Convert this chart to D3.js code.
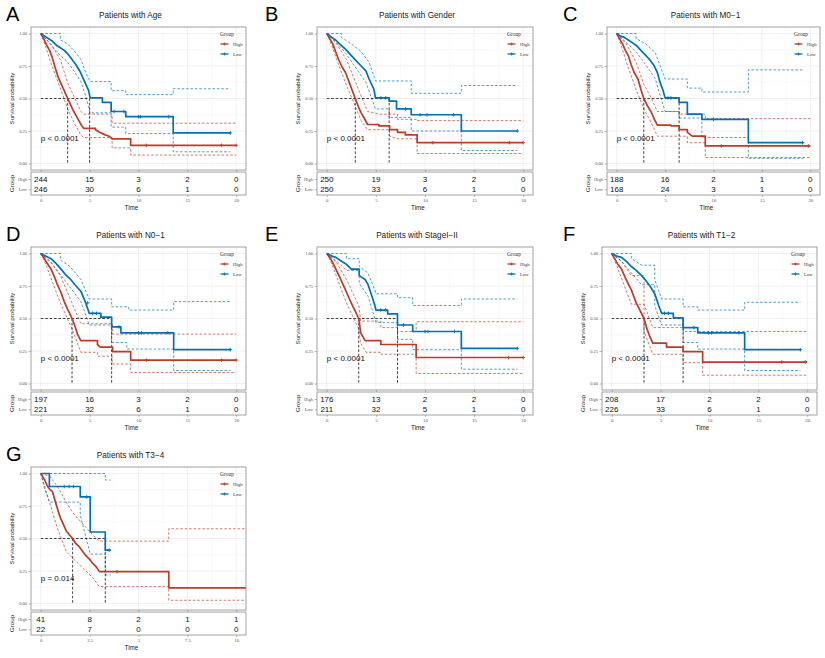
<!DOCTYPE html>
<html>
<head>
<meta charset="utf-8">
<script src="https://cdn.jsdelivr.net/npm/d3@7"></script>
<style>
  body { margin: 0; background: #fff; }
</style>
</head>
<body>
<svg id="chart" width="825" height="658"></svg>
<script>
// ---- data ----
var letters = ["A", "B", "C", "D", "E", "F", "G"];
var titles = ["Patients with Age", "Patients with Gender", "Patients with M0\u22121",
  "Patients with N0\u22121", "Patients with StageI\u2212II", "Patients with T1\u22122", "Patients with T3\u22124"];
var pTexts = ["p < 0.0001", "p < 0.0001", "p < 0.0001", "p < 0.0001", "p < 0.0001", "p < 0.0001", "p = 0.014"];
var groups = ["High", "Low"];
var yTicks = [0, 0.25, 0.5, 0.75, 1];

var riskTimes = [[0, 5, 10, 15, 20], [0, 5, 10, 15, 20], [0, 5, 10, 15, 20], [0, 5, 10, 15, 20],
  [0, 5, 10, 15, 20], [0, 5, 10, 15, 20], [0, 2.5, 5, 7.5, 10]];
var tickLabels = [["0", "5", "10", "15", "20"], ["0", "5", "10", "15", "20"], ["0", "5", "10", "15", "20"],
  ["0", "5", "10", "15", "20"], ["0", "5", "10", "15", "20"], ["0", "5", "10", "15", "20"],
  ["0", "2.5", "5", "7.5", "10"]];
var xDomains = [[-1, 21], [-1, 21], [-1, 21], [-1, 21], [-1, 21], [-1, 21], [-0.5, 10.5]];

var riskHigh = [[244, 15, 3, 2, 0], [250, 19, 3, 2, 0], [188, 16, 2, 1, 0], [197, 16, 3, 2, 0],
  [176, 13, 2, 2, 0], [208, 17, 2, 2, 0], [41, 8, 2, 1, 1]];
var riskLow = [[246, 30, 6, 1, 0], [250, 33, 6, 1, 0], [168, 24, 3, 1, 0], [221, 32, 6, 1, 0],
  [211, 32, 5, 1, 0], [226, 33, 6, 1, 0], [22, 7, 0, 0, 0]];

// median survival times [high, low]
var medians = [[2.75, 5.0], [2.9, 6.35], [2.8, 6.45], [3.2, 7.25], [3.25, 7.2], [3.3, 7.3], [1.63, 3.3]];

// Kaplan-Meier steps [time, survival]
var highSurv = [
  [[0,1],[0.3,0.96],[0.6,0.91],[0.9,0.87],[1.2,0.81],[1.5,0.73],[1.8,0.66],[2.1,0.61],[2.4,0.56],[2.75,0.5],[3.0,0.46],[3.3,0.41],[3.6,0.37],[3.9,0.33],[4.2,0.29],[4.4,0.27],[5.6,0.26],[6.0,0.24],[6.6,0.22],[7.0,0.21],[7.3,0.19],[9.2,0.14],[20,0.14]],
  [[0,1],[0.3,0.96],[0.6,0.92],[0.9,0.86],[1.2,0.8],[1.5,0.75],[1.9,0.7],[2.2,0.64],[2.5,0.58],[2.9,0.5],[3.2,0.44],[3.5,0.39],[3.8,0.35],[4.15,0.3],[5.3,0.29],[6.4,0.26],[7.2,0.24],[8.0,0.22],[9.2,0.16],[20,0.16]],
  [[0,1],[0.3,0.96],[0.6,0.92],[0.9,0.87],[1.2,0.83],[1.5,0.76],[1.8,0.7],[2.2,0.65],[2.5,0.57],[2.8,0.5],[3.2,0.44],[3.6,0.39],[3.9,0.34],[4.2,0.295],[5.6,0.29],[6.45,0.26],[7.3,0.24],[7.8,0.21],[9.15,0.135],[20,0.135]],
  [[0,1],[0.3,0.97],[0.6,0.93],[1.05,0.88],[1.4,0.82],[1.7,0.76],[2.07,0.7],[2.4,0.63],[2.75,0.57],[3.2,0.5],[3.5,0.44],[3.75,0.38],[4.1,0.33],[5.8,0.3],[6.1,0.28],[7.35,0.245],[9.2,0.18],[20,0.18]],
  [[0,1],[0.3,0.97],[0.6,0.93],[0.92,0.88],[1.3,0.82],[1.9,0.72],[2.3,0.65],[2.8,0.57],[3.25,0.5],[3.35,0.45],[3.45,0.39],[3.9,0.33],[5.5,0.3],[9.1,0.2],[20,0.2]],
  [[0,1],[0.3,0.96],[0.6,0.92],[1.0,0.88],[1.4,0.81],[2.0,0.72],[2.5,0.62],[2.9,0.56],[3.3,0.5],[3.6,0.42],[3.9,0.36],[4.2,0.31],[5.6,0.28],[7.3,0.245],[9.3,0.165],[20,0.165]],
  [[0,1],[0.1,0.975],[0.2,0.95],[0.35,0.9],[0.45,0.88],[0.6,0.86],[0.75,0.78],[0.85,0.73],[1.0,0.66],[1.15,0.61],[1.3,0.56],[1.45,0.53],[1.63,0.5],[1.8,0.46],[1.95,0.44],[2.1,0.41],[2.3,0.37],[2.5,0.34],[2.65,0.31],[2.85,0.28],[3.0,0.245],[6.55,0.12],[10.5,0.12]]
];
var lowSurv = [
  [[0,1],[0.4,0.98],[0.8,0.96],[1.2,0.94],[1.6,0.91],[2.0,0.89],[2.4,0.87],[2.8,0.84],[3.2,0.8],[3.6,0.76],[4.0,0.71],[4.3,0.66],[4.6,0.61],[4.9,0.56],[5.05,0.505],[6.3,0.47],[7.2,0.4],[8.7,0.36],[13.55,0.235],[19.4,0.235]],
  [[0,1],[0.5,0.97],[0.9,0.95],[1.3,0.92],[1.9,0.88],[2.5,0.83],[3.0,0.79],[3.5,0.75],[4.0,0.71],[4.3,0.65],[4.8,0.57],[4.95,0.505],[6.35,0.48],[7.1,0.42],[8.6,0.375],[13.7,0.25],[19.4,0.25]],
  [[0,1],[0.4,0.98],[0.8,0.97],[1.2,0.95],[1.6,0.93],[2.0,0.91],[2.5,0.87],[2.9,0.84],[3.4,0.8],[3.8,0.76],[4.2,0.7],[4.5,0.62],[4.8,0.56],[5.0,0.505],[6.45,0.47],[7.3,0.38],[8.8,0.34],[13.6,0.16],[19.3,0.16]],
  [[0,1],[0.5,0.98],[1.05,0.96],[1.6,0.92],[2.07,0.88],[2.5,0.84],[3.06,0.8],[3.5,0.76],[4.1,0.71],[4.6,0.62],[4.96,0.54],[6.15,0.51],[7.25,0.435],[8.2,0.39],[13.6,0.26],[19.4,0.26]],
  [[0,1],[0.5,0.98],[0.92,0.97],[1.5,0.94],[1.95,0.92],[2.5,0.88],[3.3,0.83],[3.9,0.8],[4.2,0.76],[4.55,0.68],[4.9,0.6],[5.0,0.565],[6.2,0.535],[7.2,0.45],[8.75,0.4],[13.7,0.27],[19.4,0.27]],
  [[0,1],[0.5,0.98],[1.0,0.97],[1.5,0.94],[2.0,0.9],[2.5,0.87],[3.05,0.83],[3.5,0.79],[3.9,0.75],[4.4,0.69],[4.8,0.6],[5.1,0.54],[6.3,0.505],[7.3,0.43],[8.8,0.39],[13.6,0.26],[19.3,0.26]],
  [[0,1],[0.44,0.9],[2.02,0.82],[2.53,0.55],[3.3,0.41],[3.58,0.41]]
];

// confidence limits (dashed)
var highUpper = [
  [[0,1],[1,0.92],[2,0.8],[2.75,0.62],[3.5,0.5],[4.1,0.4],[4.4,0.38],[7.3,0.31],[20,0.31]],
  [[0,1],[1,0.92],[2,0.8],[2.9,0.63],[3.5,0.52],[4.15,0.4],[5.3,0.38],[7.2,0.34],[9.2,0.33],[20,0.33]],
  [[0,1],[1,0.92],[2,0.78],[2.8,0.61],[3.6,0.5],[4.2,0.4],[6.45,0.38],[9.15,0.345],[20,0.345]],
  [[0,1],[1,0.94],[2,0.83],[3.2,0.62],[4.1,0.46],[7.35,0.38],[20,0.38]],
  [[0,1],[1,0.93],[2,0.8],[3.25,0.6],[3.45,0.48],[5.5,0.43],[7.2,0.4],[9.1,0.475],[20,0.475]],
  [[0,1],[1,0.94],[2,0.83],[3.3,0.61],[4.2,0.43],[7.3,0.4],[20,0.4]],
  [[0,1],[0.45,0.98],[0.85,0.9],[1.3,0.78],[1.63,0.7],[2.1,0.62],[2.65,0.53],[3.0,0.48],[6.55,0.575],[10.5,0.575]]
];
var highLower = [
  [[0,1],[0.5,0.9],[1,0.78],[2,0.58],[2.75,0.42],[3.5,0.3],[4.1,0.22],[4.4,0.2],[7.3,0.12],[9.2,0.065],[20,0.065]],
  [[0,1],[0.5,0.91],[1,0.8],[2,0.6],[2.9,0.44],[3.5,0.33],[4.15,0.26],[6.4,0.21],[7.2,0.19],[9.2,0.077],[20,0.077]],
  [[0,1],[0.5,0.9],[1,0.78],[2,0.57],[2.8,0.42],[3.6,0.31],[4.2,0.21],[7.3,0.16],[9.15,0.046],[20,0.046]],
  [[0,1],[0.5,0.92],[1,0.82],[2,0.62],[3.2,0.42],[4.1,0.24],[5.8,0.21],[7.3,0.15],[9.2,0.085],[20,0.085]],
  [[0,1],[0.5,0.92],[1,0.82],[2,0.62],[3.25,0.42],[3.45,0.31],[4,0.24],[5.5,0.225],[9.1,0.077],[20,0.077]],
  [[0,1],[0.5,0.91],[1,0.81],[2,0.61],[3.3,0.4],[4.2,0.225],[7.3,0.16],[9.3,0.064],[20,0.064]],
  [[0,1],[0.2,0.88],[0.45,0.78],[0.85,0.58],[1.3,0.4],[1.63,0.35],[2.1,0.28],[2.65,0.2],[3.0,0.13],[6.55,0.025],[10.5,0.025]]
];
var lowUpper = [
  [[0,1],[2,0.95],[2.75,0.92],[3.5,0.86],[4.1,0.8],[4.6,0.7],[5.05,0.63],[7.2,0.56],[8.7,0.53],[13.55,0.575],[19.4,0.575]],
  [[0,1],[1.5,0.97],[2.5,0.92],[3.5,0.86],[4.3,0.78],[4.95,0.635],[8.6,0.54],[13.7,0.6],[19.4,0.6]],
  [[0,1],[2,0.96],[3,0.92],[4,0.85],[4.5,0.75],[5.0,0.65],[7.3,0.58],[8.8,0.55],[13.6,0.72],[19.3,0.72]],
  [[0,1],[2,0.95],[3,0.9],[4.1,0.8],[4.96,0.65],[7.25,0.59],[9.0,0.565],[13.6,0.63],[19.4,0.63]],
  [[0,1],[2,0.96],[3.3,0.9],[4.2,0.85],[4.9,0.72],[5.0,0.69],[7.2,0.66],[8.75,0.6],[13.7,0.65],[19.4,0.65]],
  [[0,1],[2,0.96],[3.05,0.91],[4.4,0.8],[5.1,0.65],[7.3,0.59],[8.8,0.565],[13.6,0.625],[19.3,0.625]],
  [[0,1],[3.3,0.95],[3.58,0.95]]
];
var lowLower = [
  [[0,1],[1,0.92],[2,0.83],[2.75,0.78],[3.5,0.7],[4.1,0.63],[4.6,0.52],[5.05,0.39],[7.2,0.28],[8.7,0.23],[13.55,0.09],[19.4,0.09]],
  [[0,1],[1,0.93],[2,0.84],[3,0.73],[4,0.62],[4.95,0.42],[6.35,0.355],[8.6,0.25],[13.7,0.1],[19.4,0.1]],
  [[0,1],[1,0.93],[2,0.86],[3,0.76],[4,0.65],[4.5,0.52],[5.0,0.4],[6.45,0.35],[8.8,0.2],[13.6,0.04],[19.3,0.04]],
  [[0,1],[1,0.93],[2,0.84],[3,0.74],[4.1,0.63],[4.96,0.45],[7.25,0.315],[8.8,0.265],[13.6,0.1],[19.4,0.1]],
  [[0,1],[1,0.94],[2,0.87],[3.3,0.77],[4.2,0.67],[4.9,0.5],[5.0,0.47],[7.2,0.34],[8.75,0.26],[13.7,0.11],[19.4,0.11]],
  [[0,1],[1,0.94],[2,0.85],[3.05,0.76],[4.4,0.6],[5.1,0.45],[7.3,0.315],[8.8,0.265],[13.6,0.1],[19.3,0.1]],
  [[0,1],[0.44,0.78],[2.02,0.68],[2.53,0.38],[3.3,0.22],[3.58,0.22]]
];

// censoring times
var highCensor = [[10.8, 18.5, 20], [10.8, 18.6, 20], [10.8, 19.8], [10.8, 18.5, 20], [18.5, 20], [17.4, 19.8], [3.9]];
var lowCensor = [[7.5, 8.5, 10.0, 10.2, 13.1, 19.4], [5.5, 6.0, 8.0, 9.5, 10.2, 12.9, 19.4],
  [5.3, 5.6, 10.0, 19.2], [4.8, 5.3, 5.7, 8.0, 10.0, 10.3, 13.0, 19.4],
  [5.5, 6.0, 7.8, 10.0, 10.3, 13.0, 19.4], [5.4, 5.8, 8.4, 9.9, 10.2, 13.0, 19.3], [1.2, 1.45, 1.68, 2.35, 3.5]];

// ---- layout ----
var colors = { High: "#BC3C29", Low: "#0072B5" };
var panels = [[31, 27, 215], [317, 27, 216], [607, 27, 213], [31, 247, 215], [317, 247, 216], [602, 247, 215], [31, 467, 215]];
var letterX = [6, 265, 563, 6, 265, 563, 6];
var panelH = 143, tableH = 23;
var sans = "Liberation Sans, Arial, sans-serif";
var serif = "Liberation Serif, Times New Roman, serif";

var svg = d3.select("#chart");

function stepAt(curve, t) {
  var v = curve[0][1];
  curve.forEach(function (p) { if (p[0] <= t) v = p[1]; });
  return v;
}

// step path; runs of many tiny steps close together are drawn straight
function kmPath(pts, xScale, yScale, gap) {
  var d = "M" + xScale(pts[0][0]) + "," + yScale(pts[0][1]);
  for (var k = 1; k < pts.length; k++) {
    var p = pts[k - 1], q = pts[k];
    if (q[0] - p[0] <= gap) d += "L" + xScale(q[0]) + "," + yScale(q[1]);
    else d += "H" + xScale(q[0]) + "V" + yScale(q[1]);
  }
  return d;
}

titles.forEach(function (title, i) {
  var L = panels[i][0], T = panels[i][1], W = panels[i][2];
  var tableTop = T + panelH + 2;
  var xScale = d3.scaleLinear().domain(xDomains[i]).range([L, L + W]);
  var yScale = d3.scaleLinear().domain([-0.05, 1.05]).range([T + panelH, T]);
  var span = xDomains[i][1] - xDomains[i][0];
  var g = svg.append("g");

  // letter and title
  g.append("text").attr("x", letterX[i]).attr("y", T - 6)
    .style("font-family", sans).style("font-size", "20px").text(letters[i]);
  g.append("text").attr("x", L + W / 2 - 8).attr("y", T - 9)
    .attr("text-anchor", "middle").style("font-family", sans).style("font-size", "8.2px")
    .style("fill", "#222").text(title);

  // grid
  var minorX = d3.pairs(riskTimes[i]).map(function (d) { return (d[0] + d[1]) / 2; });
  var minorY = d3.pairs(yTicks).map(function (d) { return (d[0] + d[1]) / 2; });
  g.selectAll(".gxm").data(minorX).enter().append("line")
    .attr("x1", function (d) { return xScale(d); }).attr("x2", function (d) { return xScale(d); })
    .attr("y1", T).attr("y2", T + panelH).style("stroke", "#f4f4f4").style("stroke-width", 0.5);
  g.selectAll(".gym").data(minorY).enter().append("line")
    .attr("y1", function (d) { return yScale(d); }).attr("y2", function (d) { return yScale(d); })
    .attr("x1", L).attr("x2", L + W).style("stroke", "#f4f4f4").style("stroke-width", 0.5);
  g.selectAll(".gx").data(riskTimes[i]).enter().append("line")
    .attr("x1", function (d) { return xScale(d); }).attr("x2", function (d) { return xScale(d); })
    .attr("y1", T).attr("y2", T + panelH).style("stroke", "#e8e8e8").style("stroke-width", 0.6);
  g.selectAll(".gy").data(yTicks).enter().append("line")
    .attr("y1", function (d) { return yScale(d); }).attr("y2", function (d) { return yScale(d); })
    .attr("x1", L).attr("x2", L + W).style("stroke", "#e8e8e8").style("stroke-width", 0.6);

  // clip
  svg.append("clipPath").attr("id", "clip" + i).append("rect")
    .attr("x", L).attr("y", T).attr("width", W).attr("height", panelH);
  var plot = g.append("g").attr("clip-path", "url(#clip" + i + ")");

  // confidence limits
  [[highUpper, "High"], [highLower, "High"], [lowUpper, "Low"], [lowLower, "Low"]].forEach(function (c) {
    plot.append("path").attr("d", kmPath(c[0][i], xScale, yScale, span / 17))
      .style("fill", "none").style("stroke", colors[c[1]]).style("stroke-width", 0.8)
      .style("stroke-dasharray", "2.6,1.8").style("opacity", 0.85);
  });

  // median lines
  var med = medians[i];
  plot.append("line").attr("x1", xScale(0)).attr("x2", xScale(d3.max(med)))
    .attr("y1", yScale(0.5)).attr("y2", yScale(0.5))
    .style("stroke", "#111").style("stroke-width", 0.8).style("stroke-dasharray", "2.6,1.8");
  med.forEach(function (m) {
    plot.append("line").attr("x1", xScale(m)).attr("x2", xScale(m))
      .attr("y1", yScale(0.5)).attr("y2", yScale(0))
      .style("stroke", "#111").style("stroke-width", 0.8).style("stroke-dasharray", "2.6,1.8");
  });

  // survival curves and censor marks
  [[highSurv[i], highCensor[i], "High"], [lowSurv[i], lowCensor[i], "Low"]].forEach(function (c) {
    plot.append("path").attr("d", kmPath(c[0], xScale, yScale, span / 36))
      .style("fill", "none").style("stroke", colors[c[2]]).style("stroke-width", 1.7)
      .style("stroke-linejoin", "round");
    plot.selectAll(null).data(c[1]).enter().append("path")
      .attr("d", function (t) {
        var x = xScale(t), y = yScale(stepAt(c[0], t));
        return "M" + (x - 1.8) + "," + y + "h3.6M" + x + "," + (y - 1.8) + "v3.6";
      })
      .style("stroke", colors[c[2]]).style("stroke-width", 0.9);
  });

  // p value
  g.append("text").attr("x", xScale(0)).attr("y", yScale(0.17))
    .style("font-family", sans).style("font-size", "8px").style("fill", "#111").text(pTexts[i]);

  // panel border
  g.append("rect").attr("x", L).attr("y", T).attr("width", W).attr("height", panelH)
    .style("fill", "none").style("stroke", "#8a8a8a").style("stroke-width", 0.8);

  // y axis
  var yAxis = g.append("g").attr("transform", "translate(" + L + ",0)")
    .call(d3.axisLeft(yScale).tickValues(yTicks).tickFormat(d3.format(".2f")).tickSize(2.5).tickPadding(1.5));
  yAxis.select(".domain").remove();
  yAxis.selectAll("line").style("stroke", "#777").style("stroke-width", 0.5);
  yAxis.selectAll("text").style("font-family", serif).style("font-size", "4.5px").style("fill", "#555");

  // bottom ticks of the curve panel
  var xTickTop = g.append("g").attr("transform", "translate(0," + (T + panelH) + ")")
    .call(d3.axisBottom(xScale).tickValues(riskTimes[i]).tickFormat("").tickSize(2));
  xTickTop.select(".domain").remove();
  xTickTop.selectAll("line").style("stroke", "#777").style("stroke-width", 0.5);

  g.append("text")
    .attr("transform", "translate(" + (L - 17) + "," + (T + panelH / 2) + ") rotate(-90)")
    .attr("text-anchor", "middle").style("font-family", sans).style("font-size", "6.2px")
    .style("fill", "#222").text("Survival probability");

  // legend
  var lx = L + W - 26;
  g.append("text").attr("x", lx).attr("y", T + 8.5)
    .style("font-family", serif).style("font-size", "5.5px").style("fill", "#333").text("Group");
  groups.forEach(function (grp, k) {
    var ly = T + 17 + k * 10;
    g.append("line").attr("x1", lx + 0.5).attr("x2", lx + 8.5).attr("y1", ly).attr("y2", ly)
      .style("stroke", colors[grp]).style("stroke-width", 1.3);
    g.append("path").attr("d", "M" + (lx + 3) + "," + ly + "h3M" + (lx + 4.5) + "," + (ly - 1.5) + "v3")
      .style("stroke", colors[grp]).style("stroke-width", 0.8);
    g.append("text").attr("x", lx + 13).attr("y", ly + 1.6)
      .style("font-family", serif).style("font-size", "4.8px").style("fill", "#333").text(grp);
  });

  // risk table
  var rowScale = d3.scalePoint().domain(groups).range([tableTop + 7, tableTop + 17.3]);
  g.append("rect").attr("x", L).attr("y", tableTop).attr("width", W).attr("height", tableH)
    .style("fill", "none").style("stroke", "#8a8a8a").style("stroke-width", 0.8);
  [[riskHigh[i], "High"], [riskLow[i], "Low"]].forEach(function (r) {
    g.selectAll(null).data(r[0]).enter().append("text")
      .attr("x", function (d, k) { return xScale(riskTimes[i][k]); })
      .attr("y", rowScale(r[1]) + 2.9)
      .attr("text-anchor", "middle").style("font-family", sans).style("font-size", "8px")
      .style("fill", "#111").text(function (d) { return d; });
  });
  var rAxis = g.append("g").attr("transform", "translate(" + L + ",0)")
    .call(d3.axisLeft(rowScale).tickSize(2.5).tickPadding(1.5));
  rAxis.select(".domain").remove();
  rAxis.selectAll("line").style("stroke", "#777").style("stroke-width", 0.5);
  rAxis.selectAll("text").style("font-family", serif).style("font-size", "4.5px").style("fill", "#555");
  g.append("text")
    .attr("transform", "translate(" + (L - 17) + "," + (tableTop + tableH / 2) + ") rotate(-90)")
    .attr("text-anchor", "middle").style("font-family", sans).style("font-size", "6.2px")
    .style("fill", "#222").text("Group");

  var xAxis = g.append("g").attr("transform", "translate(0," + (tableTop + tableH) + ")")
    .call(d3.axisBottom(xScale).tickValues(riskTimes[i])
      .tickFormat(function (d, k) { return tickLabels[i][k]; }).tickSize(2).tickPadding(1.5));
  xAxis.select(".domain").remove();
  xAxis.selectAll("line").style("stroke", "#777").style("stroke-width", 0.5);
  xAxis.selectAll("text").style("font-family", serif).style("font-size", "4.8px").style("fill", "#555");

  g.append("text").attr("x", L + W / 2 - 7).attr("y", tableTop + tableH + 14.5)
    .attr("text-anchor", "middle").style("font-family", sans).style("font-size", "6.3px")
    .style("fill", "#222").text("Time");
});
</script>
</body>
</html>
